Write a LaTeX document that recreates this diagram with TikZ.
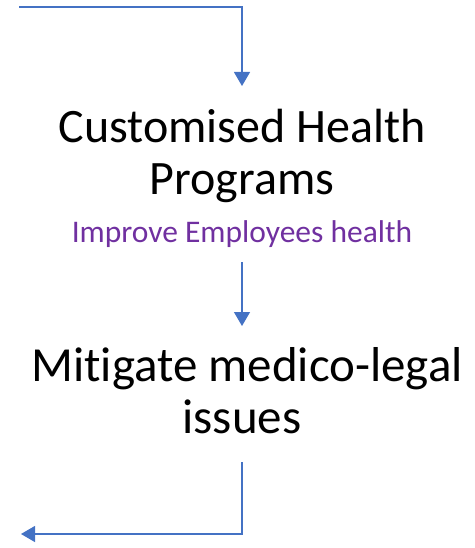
\documentclass[tikz,border=0pt]{standalone}
\usepackage{fontspec}
\setmainfont{Carlito}[RawFeature=-liga]
\usetikzlibrary{arrows.meta}
\definecolor{arrowblue}{HTML}{4472C4}
\definecolor{subpurple}{HTML}{7030A0}
\begin{document}
\begin{tikzpicture}[x=1pt,y=-1pt,
  flow/.style={draw=arrowblue,line width=1.2pt,-{Triangle[width=16pt,length=14pt]}},
  bigtext/.style={align=center,inner sep=0pt,font=\fontsize{48}{52}\selectfont,text=black},
  subtext/.style={align=center,inner sep=0pt,font=\fontsize{31.5}{36}\selectfont,text=subpurple}]
\useasboundingbox (0,0) rectangle (474,548);
\node[bigtext,anchor=base] (cust) at (242,194) {Customised Health\\Programs};
\node[subtext,anchor=base] (impr) at (242,242) {Improve Employees health};
\node[bigtext,anchor=base,font=\fontsize{49}{52}\selectfont] (miti) at (242,433) {Mitigate medico-legal\kern-10pt\\issues};
\coordinate (inS) at (19,7);
\coordinate (inE) at (242,86);
\coordinate (midS) at (242,262);
\coordinate (midE) at (242,326);
\coordinate (outS) at (242,462);
\coordinate (outE) at (21,534);
\draw[flow] (inS) -| (inE);
\draw[flow] (midS) -- (midE);
\draw[flow] (outS) |- (outE);
\end{tikzpicture}
\end{document}
